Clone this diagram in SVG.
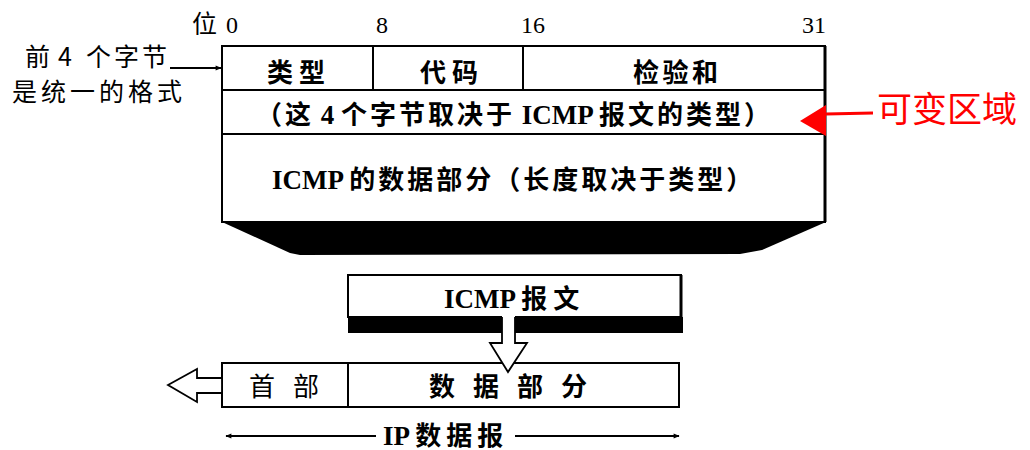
<svg xmlns="http://www.w3.org/2000/svg" width="1030" height="450" viewBox="0 0 1030 450">
<style>
.box{fill:#fff;stroke:#000;stroke-width:2}
.ln{stroke:#000;stroke-width:2;fill:none}
.t{font-family:'Noto Sans CJK SC','Noto Sans CJK JP',sans-serif;font-size:26px;fill:#000}
.b{font-weight:bold;letter-spacing:3px}
.s{font-family:'Liberation Serif',serif;font-weight:bold;font-size:27px;letter-spacing:0}
.num{font-family:'Liberation Serif',serif;font-size:24px;fill:#000}
.ann{font-size:25px;font-weight:normal}
.hollow{fill:#fff;stroke:#000;stroke-width:1.8}
.red{fill:#f00}
</style>
<defs>
<marker id="ah" viewBox="0 0 10 10" refX="9" refY="5" markerWidth="9" markerHeight="6" markerUnits="userSpaceOnUse" orient="auto-start-reverse"><path d="M0,1 L10,5 L0,9 z" fill="#000"/></marker>
</defs>

<g id="bit-labels">
<text class="t ann" x="192" y="33">位</text>
<text class="num" x="226" y="33">0</text>
<text class="num" x="376" y="33">8</text>
<text class="num" x="521" y="33">16</text>
<text class="num" x="802" y="33">31</text>
</g>

<g id="annotation">
<text class="t ann" y="66"><tspan x="25">前</tspan><tspan x="58">4</tspan><tspan x="86" style="letter-spacing:3px">个字节</tspan></text>
<text class="t ann" x="12" y="101" style="letter-spacing:4px">是统一的格式</text>
</g>

<g id="icmp-format">
<polygon points="222,222 826,222 762,250 740,254 300,255 290,253" fill="#000"/>
<rect class="box" x="222" y="46" width="603" height="176"/>
<line class="ln" x1="222" y1="90" x2="825" y2="90"/>
<line class="ln" x1="222" y1="134" x2="825" y2="134"/>
<line class="ln" x1="373" y1="46" x2="373" y2="90"/>
<line class="ln" x1="523" y1="46" x2="523" y2="90"/>
<line x1="825" y1="46" x2="825" y2="222" stroke="#000" stroke-width="3"/>
<text class="t b" x="267" y="82" style="letter-spacing:6px">类型</text>
<text class="t b" x="420" y="82" style="letter-spacing:6px">代码</text>
<text class="t b" x="633" y="82" style="letter-spacing:3.5px">检验和</text>
<text class="t b" x="256" y="124" style="letter-spacing:3px">（这<tspan class="s"> 4 </tspan>个字节取决于<tspan class="s"> ICMP </tspan>报文的类型）</text>
<text class="t b" x="272" y="189"><tspan class="s">ICMP </tspan>的数据部分（长度取决于类型）</text>
</g>

<g id="icmp-message">
<rect x="348" y="317" width="335" height="16" fill="#000"/>
<rect class="box" x="348" y="275" width="333" height="42"/>
<line x1="681" y1="275" x2="681" y2="333" stroke="#000" stroke-width="3"/>
<text class="t b" x="444" y="308" style="letter-spacing:6px"><tspan class="s">ICMP </tspan>报文</text>
</g>

<g id="ip-datagram">
<rect class="box" x="222" y="363" width="457" height="44"/>
<line class="ln" x1="348" y1="363" x2="348" y2="407"/>
<text class="t" x="249" y="396" style="letter-spacing:18px">首部</text>
<text class="t b" x="429" y="396" style="letter-spacing:18px">数据部分</text>
</g>

<g id="connectors">
<line class="ln" x1="170" y1="68" x2="221" y2="68" marker-end="url(#ah)"/>
<line x1="826" y1="114" x2="873" y2="113" stroke="#f00" stroke-width="3"/>
<polygon class="red" points="800,121 826,105 826,136"/>
<polygon points="502,316 502,343 490,343 508,372 527,343 515,343 515,316" fill="#fff" stroke="none"/>
<polyline class="hollow" points="502,317 502,343 490,343 508,372 527,343 515,343 515,317" style="fill:none"/>
<polygon class="hollow" points="222,378 197,378 197,369 168,385 197,402 197,393 222,393"/>
<line class="ln" x1="226" y1="436" x2="376" y2="436" marker-start="url(#ah)"/>
<line class="ln" x1="515" y1="436" x2="679" y2="436" marker-end="url(#ah)"/>
</g>

<g id="labels">
<text class="t" x="877" y="122" style="font-size:35px;fill:#f00">可变区域</text>
<text class="t b" x="383" y="445" style="letter-spacing:5px"><tspan class="s">IP </tspan>数据报</text>
</g>
</svg>
